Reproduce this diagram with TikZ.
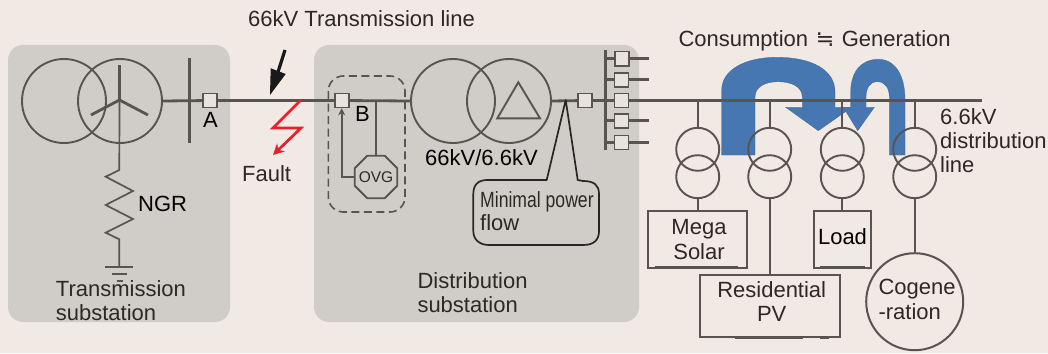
\documentclass[tikz,border=0pt]{standalone}
\usepackage{fontspec}
\setmainfont{Liberation Sans}
\newfontfamily\symfont{DejaVu Sans}
\usetikzlibrary{shapes.geometric,arrows.meta}
\definecolor{bgc}{HTML}{F1E9E3}
\definecolor{subc}{HTML}{D0CCC8}
\definecolor{linec}{HTML}{58544F}
\definecolor{boxc}{HTML}{E9E3DD}
\definecolor{bluec}{HTML}{4677B0}
\definecolor{redc}{HTML}{E8202A}
\definecolor{txtc}{HTML}{2B2826}
\tikzset{
  subst/.style={fill=subc,rounded corners=15pt},
  wire/.style={draw=linec,line width=1.7pt},
  busline/.style={draw=linec,line width=2.8pt},
  heavy/.style={draw=linec,line width=3.8pt},
  xfbig/.style={circle,draw=linec,line width=1.9pt,minimum size=84pt,inner sep=0pt},
  xfsmall/.style={circle,draw=linec,line width=1.9pt,minimum size=43pt,inner sep=0pt},
  sw/.style={rectangle,draw=linec,line width=1.6pt,fill=boxc,minimum size=14pt,inner sep=0pt},
  equip/.style={rectangle,draw=linec,line width=2pt,inner sep=0pt},
  lbl/.style={anchor=base west,inner sep=0pt,text=txtc,font=\fontsize{22}{24}\selectfont},
  clbl/.style={anchor=base,inner sep=0pt,text=txtc,font=\fontsize{22}{24}\selectfont},
  flow/.style={fill=bluec,draw=bluec!85!black,line width=0.3pt},
}
\begin{document}
\begin{tikzpicture}[x=1pt,y=-1pt]
\useasboundingbox (0,0) rectangle (1048,353);
\fill[bgc] (0,0) rectangle (1048,353);
% substations
\fill[subst] (8,45) rectangle (230,322);
\fill[subst] (314,45) rectangle (639,322);
% blue flows
\fill[flow] (721.7,155) -- (721.7,90) .. controls (721.7,70) and (745,57.3) .. (776.7,57.3)
  .. controls (812,57.3) and (835,70) .. (835,92) -- (835,107.3) -- (851.7,107.3) -- (818.3,130.7)
  -- (785.7,107.3) -- (802.3,107.3) -- (802.3,97) .. controls (802.3,87) and (792,81.7) .. (778,81.7)
  .. controls (765,81.7) and (755,87) .. (755,97) -- (755,155) -- cycle;
\fill[flow] (905,155) -- (905,100) .. controls (905,75) and (895,59.3) .. (878.3,59.3)
  .. controls (861,59.3) and (850.7,72) .. (850.7,92) -- (850.7,107.3) -- (843.3,107.3) -- (857.7,130.7)
  -- (874.3,107.3) -- (866,107.3) -- (866,97) .. controls (866,88) and (870,81.7) .. (877.3,81.7)
  .. controls (885,81.7) and (889.3,88) .. (889.3,97) -- (889.3,155) -- cycle;
% left substation equipment
\node[xfbig] (t1a) at (64,101) {};
\node[xfbig] (t1b) at (120,101) {};
\coordinate (y0) at (119.5,100);
\coordinate (y1) at (119.5,65);
\coordinate (y2) at (91,115);
\coordinate (y3) at (148,115);
\draw[busline] (y1) -- (y0) (y2) -- (y0) -- (y3);
\coordinate (zt) at (119.3,170);
\coordinate (zb) at (119.3,239.3);
\coordinate (gnd) at (119.3,267);
\draw[wire] (y0) -- (zt) -- (105.7,176.7) -- (133,191) -- (105.7,205) -- (133,219) -- (105.7,232.7) -- (zb) -- (gnd);
\draw[wire] (105,267) -- (133,267) (112,274) -- (127,274) (116.5,281) -- (122.5,281);
\coordinate (busAt) at (189,58);
\coordinate (busAb) at (189,143);
\draw[busline,line width=3pt] (busAt) -- (busAb);
% switch boxes on the main line
\node[sw] (swA) at (210,100.5) {};
\node[sw] (swB) at (341.7,100.5) {};
\node[sw] (swC) at (585,100.5) {};
\node[xfbig] (t2a) at (453,101) {};
\node[xfbig] (t2b) at (509,101) {};
\coordinate (tri1) at (518.3,82.3);
\draw[draw=linec,line width=1.9pt] (tri1) -- (497.3,118.3) -- (540,118.3) -- cycle;
% bus on the feeder side
\coordinate (busCt) at (605.7,50);
\coordinate (busCb) at (605.7,150);
\coordinate (lineEnd) at (982,100.5);
\draw[busline] (t1b.east) -- (swA);
\draw[busline] (swA) -- (swB);
\draw[busline] (swB) -- (t2a.west);
\draw[busline] (t2b.east) -- (swC);
\draw[busline] (swC) -- (lineEnd);
\node[sw] at (swA) {};
\node[sw] at (swB) {};
\node[sw] at (swC) {};
\draw[heavy] (239,100.5) -- (273,100.5);
\draw[heavy] (771.7,100.5) -- (815,100.5) (820,100.5) -- (836,100.5) (879,100.5) -- (888,100.5) (918,100.5) -- (982,100.5);
\draw[busline,line width=3pt] (busCt) -- (busCb);
\foreach \n/\yy/\xx in {f1/58.7/622,f2/79.7/621.5,f3/100.5/621.5,f4/120.7/621.5,f5/142.3/621.5}{
  \coordinate (\n s) at (605.7,\yy);
  \coordinate (\n e) at (649,\yy);
  \draw[busline] (\n s) -- (\n e);
  \node[sw] (\n) at (\xx,\yy) {};
}
% fault arrow and lightning
\coordinate (arrA) at (285,50);
\coordinate (arrB) at (278,72);
\draw[line width=3.2pt,black!90] (arrA) -- (arrB);
\fill[black!90] (270,95) -- (285.7,74) -- (270.7,68.3) -- cycle;
\coordinate (fa) at (301,100);
\coordinate (fb) at (273,128);
\coordinate (fc) at (301,128);
\coordinate (fd) at (273,155);
\draw[redc,line width=2.7pt,-{Stealth[length=11pt,width=11pt]}] (fa) -- (fb) -- (fc) -- (fd);
% OVG
\draw[draw=linec,line width=1.6pt,dash pattern=on 8pt off 4.5pt,rounded corners=15pt] (328.3,76) rectangle (405,212);
\node[regular polygon,regular polygon sides=8,draw=linec,line width=1.9pt,minimum size=46pt,inner sep=0pt] (ovg) at (376,177) {};
\node[text=txtc,font=\fontsize{15.5}{17}\selectfont,inner sep=0pt] at (ovg) {OVG};
\coordinate (ovgT) at (376,100.5);
\draw[wire] (ovgT) -- (ovg.north);
\draw[wire,-{Stealth[length=7pt,width=7pt]}] (ovg.west) -- (341.7,177) -- (swB.south);
% callout
\draw[black!85,line width=1.7pt,line join=round] (565.7,100) -- (546.7,180) -- (487,180)
  .. controls (478,180) and (473.3,185) .. (473.3,194) -- (473.3,231)
  .. controls (473.3,240) and (480,245) .. (489,245) -- (583,245)
  .. controls (594,245) and (599,240) .. (599,231) -- (599,194)
  .. controls (599,185) and (594,181) .. (583,181) -- (577.7,180) -- cycle;
% right transformers
\foreach \n/\xx in {a/697.7,b/769.7,c/842.3,d/914.7}{
  \node[xfsmall] (u\n) at (\xx,149.3) {};
  \node[xfsmall] (l\n) at (\xx,176.7) {};
  \coordinate (top\n) at (\xx,100.5);
  \draw[wire] (top\n) -- (u\n.north);
}
\node[equip,minimum width=98.4pt,minimum height=56.4pt] (mega) at (697.5,239.5) {};
\node[equip,minimum width=56.7pt,minimum height=56.4pt] (load) at (842.3,239.5) {};
\node[equip,minimum width=140pt,minimum height=62pt] (resi) at (770,306.3) {};
\node[circle,draw=linec,line width=2pt,minimum size=97pt,inner sep=0pt] (coge) at (914.7,301.7) {};
\draw[wire] (la.south) -- (mega.north -| la.south);
\draw[wire] (lb.south) -- (resi.north -| lb.south);
\draw[wire] (lc.south) -- (load.north);
\draw[wire] (ld.south) -- (coge.north);
\draw[heavy,line width=3pt] (655,267.7) -- (738,267.7) (820,267.7) -- (865,267.7) (735,337.3) -- (803,337.3) (820,337.3) -- (829,337.3);
% labels
\node[lbl] at (248,27) {66kV Transmission line};
\node[lbl,text=black] at (138,211) {NGR};
\node[lbl,text=black] at (203,127) {A};
\node[lbl] at (242,181.7) {Fault};
\node[lbl,text=black] at (355,121) {B};
\node[lbl,text=black] at (425,165) {66kV/6.6kV};
\node[lbl] at (55.7,296) {Transmission};
\node[lbl] at (55.7,320) {substation};
\node[lbl] at (417.3,288.7) {Distribution};
\node[lbl] at (417.3,312.7) {substation};
\node[lbl] at (480,207) {\scalebox{.8}[1]{Minimal power}};
\node[lbl] at (480,230.7) {flow};
\node[lbl] at (678.3,46.7) {Consumption\hspace{1.5pt} {\symfont ≒} \hspace{1.5pt}Generation};
\node[lbl] at (940,124) {6.6kV};
\node[lbl] at (940,148.3) {distribution};
\node[lbl] at (940,172.3) {line};
\node[clbl] at (699,234.3) {Mega};
\node[clbl] at (699,259) {Solar};
\node[clbl,text=black] at (842.5,244.3) {Load};
\node[clbl] at (771.7,297.7) {Residential};
\node[clbl] at (771.7,321.7) {PV};
\node[lbl] at (878.3,294) {Cogene};
\node[lbl] at (878.3,319) {-ration};
\end{tikzpicture}
\end{document}
